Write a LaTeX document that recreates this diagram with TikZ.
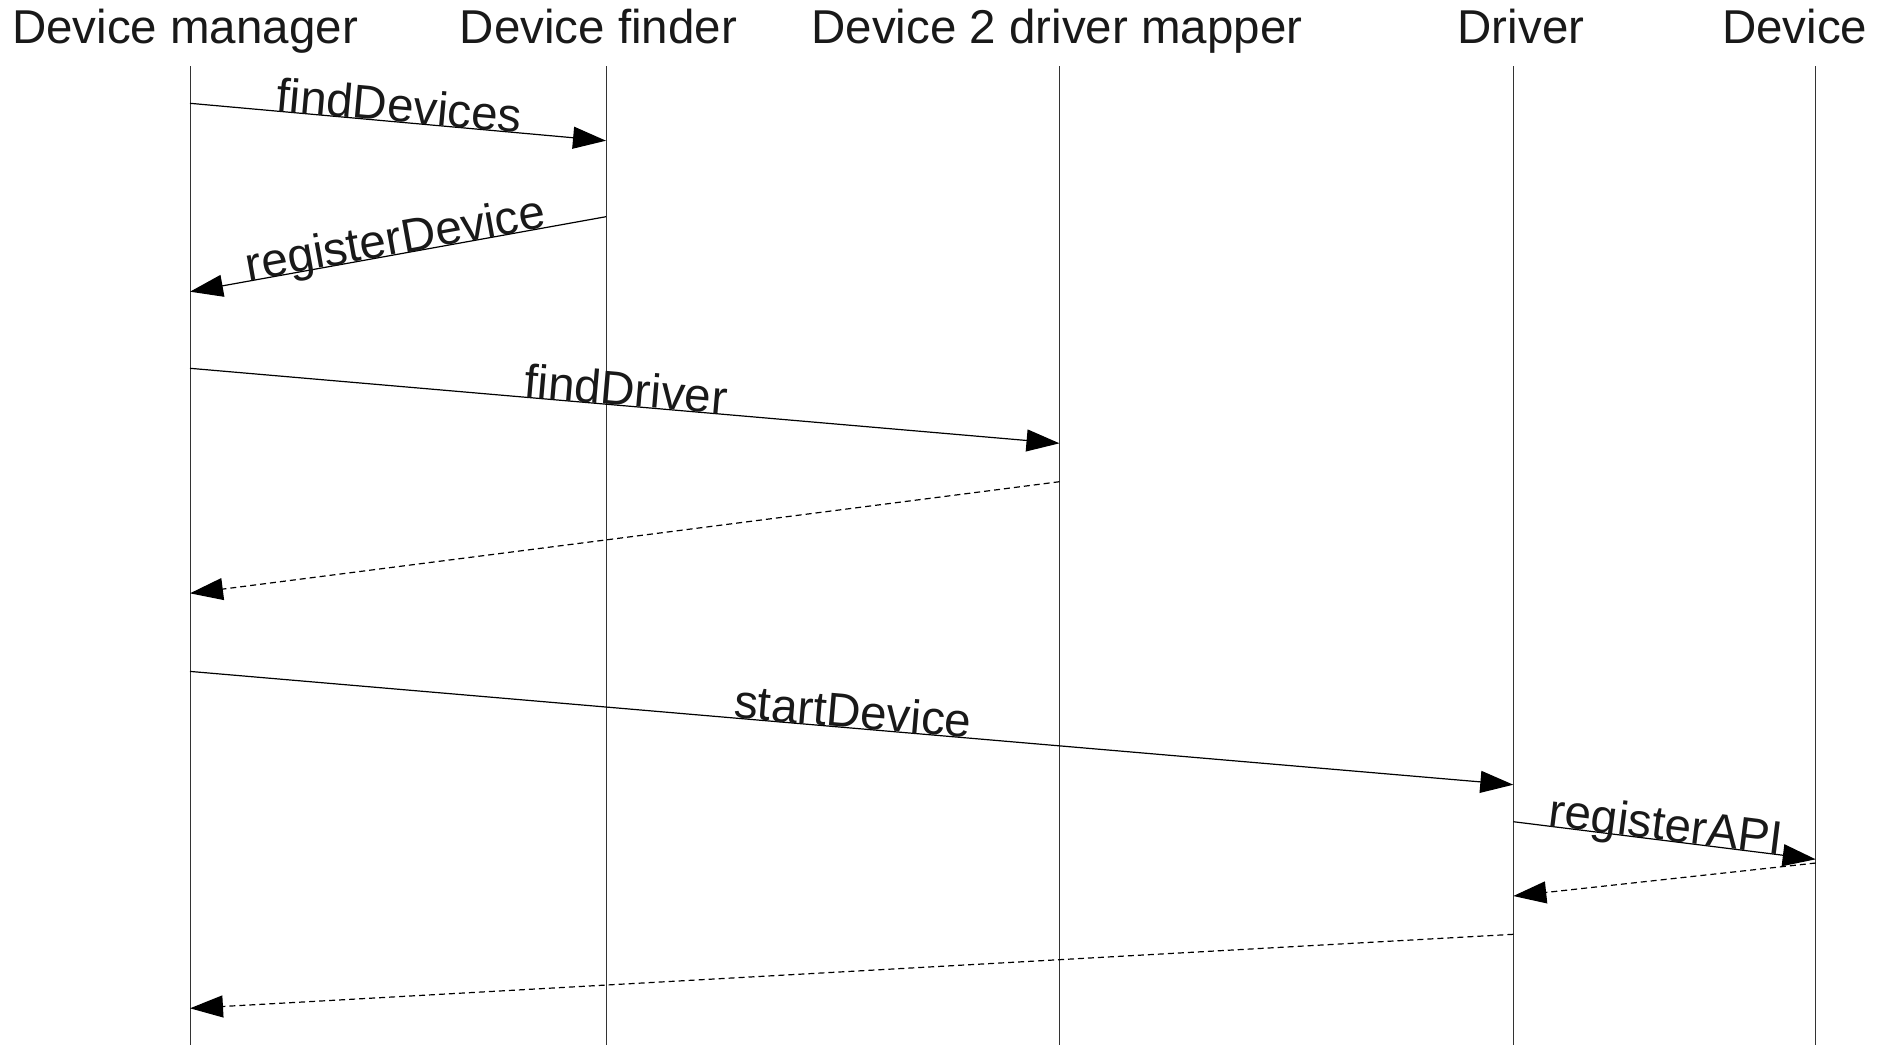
\documentclass[tikz,border=0pt]{standalone}
\usepackage{fontspec}
\setmainfont{Liberation Sans}
\usetikzlibrary{arrows.meta}
\begin{document}
\begin{tikzpicture}[x=1pt,y=-1pt,
  txt/.style={font=\fontsize{47.5}{57}\selectfont, text=black!90, inner sep=0pt},
  head/.style={txt, anchor=base},
  lifeline/.style={line width=1pt, black!80},
  msg/.style={line width=1.2pt, -{Triangle[length=33pt,width=22pt]}},
  reply/.style={msg, dash pattern=on 6pt off 4pt},
  lbl/.style={txt, sloped, anchor=base}]
\useasboundingbox (0,0) rectangle (1890,1045);

% participants
\node[head] (hManager) at (185,43.5)   {Device manager};
\node[head] (hFinder)  at (598.5,43.5) {Device finder};
\node[head] (hMapper)  at (1057,43.5)  {Device 2 driver mapper};
\node[head] (hDriver)  at (1521,43.5)  {Driver};
\node[head] (hDevice)  at (1794.8,43.5){Device};

% lifelines
\coordinate (mgrTop) at (190,66);    \coordinate (mgrBot) at (190,1045);
\coordinate (finTop) at (606,66);    \coordinate (finBot) at (606,1045);
\coordinate (mapTop) at (1059.5,66); \coordinate (mapBot) at (1059.5,1045);
\coordinate (drvTop) at (1513.3,66); \coordinate (drvBot) at (1513.3,1045);
\coordinate (devTop) at (1815.7,66); \coordinate (devBot) at (1815.7,1045);
\foreach \l in {mgr,fin,map,drv,dev}
  \draw[lifeline] (\l Top) -- (\l Bot);

% message end points
\coordinate (m1a) at (190,103.3);    \coordinate (m1b) at (606,140.7);
\coordinate (m2a) at (606,216.7);    \coordinate (m2b) at (190,291.7);
\coordinate (m3a) at (190,368.3);    \coordinate (m3b) at (1059.5,443.3);
\coordinate (m4a) at (1059.5,481.7); \coordinate (m4b) at (190,593.3);
\coordinate (m5a) at (190,671.4);    \coordinate (m5b) at (1513.3,784.7);
\coordinate (m6a) at (1513.3,821.7); \coordinate (m6b) at (1815.7,859.3);
\coordinate (m7a) at (1815.7,863);   \coordinate (m7b) at (1513.3,896);
\coordinate (m8a) at (1513.3,934.3); \coordinate (m8b) at (190,1008.3);

% messages
\draw[msg]   (m1a) -- node[lbl] {findDevices} (m1b);
\draw[msg]   (m2a) -- node[lbl] {registerDevice} (m2b);
\draw[msg]   (m3a) -- node[lbl] {findDriver} (m3b);
\draw[reply] (m4a) -- (m4b);
\draw[msg]   (m5a) -- node[lbl] {startDevice} (m5b);
\draw[msg]   (m6a) -- node[lbl] {registerAPI} (m6b);
\draw[reply] (m7a) -- (m7b);
\draw[reply] (m8a) -- (m8b);
\end{tikzpicture}
\end{document}
